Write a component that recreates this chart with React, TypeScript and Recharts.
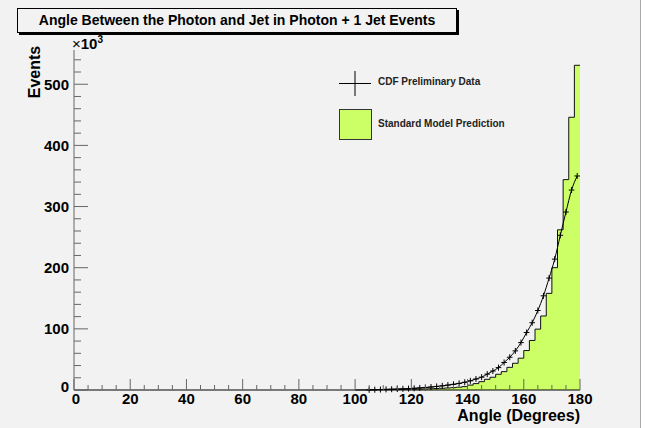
import { ComposedChart, Area, Line, XAxis, YAxis } from "recharts";

// Standard Model prediction, 2 degree bins (left edge), events x10^3
const smBinLow = [
  100, 102, 104, 106, 108, 110, 112, 114, 116, 118,
  120, 122, 124, 126, 128, 130, 132, 134, 136, 138,
  140, 142, 144, 146, 148, 150, 152, 154, 156, 158,
  160, 162, 164, 166, 168, 170, 172, 174, 176, 178,
];
const smEvents = [
  0.1, 0.15, 0.2, 0.3, 0.4, 0.5, 0.6, 0.7, 0.9, 1.1,
  1.3, 1.5, 1.8, 2.0, 2.4, 2.8, 3.3, 3.9, 4.6, 5.5,
  8.0, 10.5, 13.6, 17.5, 20.8, 25.7, 30, 37, 43.7, 52,
  64.5, 81, 99.5, 121, 158, 200, 262, 344, 446, 531,
];

// CDF preliminary data, bin centres, events x10^3
const dataAngle = [
  105, 107, 109, 111, 113, 115, 117, 119, 121, 123,
  125, 127, 129, 131, 133, 135, 137, 139, 141, 143,
  145, 147, 149, 151, 153, 155, 157, 159, 161, 163,
  165, 167, 169, 171, 173, 175, 177, 179,
];
const dataEvents = [
  0.3, 0.5, 0.7, 1.0, 1.3, 1.6, 1.9, 2.3, 2.8, 3.4,
  4.1, 4.9, 5.8, 6.8, 8.0, 9.3, 10.8, 12.6, 15.0, 18.0,
  21, 26, 31, 36.6, 45, 53.6, 64, 77.5, 94, 110,
  130, 154, 183, 214, 253, 291, 327, 350,
];

const xMajor = [0, 20, 40, 60, 80, 100, 120, 140, 160, 180];
const yMajor = [0, 100, 200, 300, 400, 500];
const xTicks = Array.from({ length: 37 }, (_, i) => i * 5);
const yTicks = Array.from({ length: 28 }, (_, i) => i * 20);

type Row = { angle: number; sm: number | null; cdf: number | null };
const rows: Row[] = [];
smBinLow.forEach((a, i) => rows.push({ angle: a, sm: smEvents[i], cdf: null }));
rows.push({ angle: 180, sm: smEvents[smEvents.length - 1], cdf: null });
dataAngle.forEach((a, i) => rows.push({ angle: a, sm: null, cdf: dataEvents[i] }));
rows.sort((p, q) => p.angle - q.angle);

const FONT = '"Liberation Sans", Arial, Helvetica, sans-serif';
const BG = "#f2f2f2";
const BIN_HALF_PX = 506 / 180; // half of a 2 degree bin in pixels

function YTick(props: any) {
  const { x, y, payload } = props;
  const v = payload.value;
  const major = yMajor.includes(v);
  return (
    <g>
      <line x1={x} x2={x + (major ? 14 : 7)} y1={y} y2={y} stroke="#666" />
      {major && (
        <text
          x={x - 5}
          y={v === 0 ? y - 4 : y}
          textAnchor="end"
          dominantBaseline="central"
          fontFamily={FONT}
          fontWeight="bold"
          fontSize={15}
          fill="#000"
        >
          {v}
        </text>
      )}
    </g>
  );
}

function XTick(props: any) {
  const { x, y, payload } = props;
  const v = payload.value;
  const major = xMajor.includes(v);
  return (
    <g>
      <line x1={x} x2={x} y1={y} y2={y - (major ? 11 : 5)} stroke="#666" />
      {major && (
        <text
          x={v === 0 ? x + 2 : x}
          y={y + 3}
          textAnchor="middle"
          dominantBaseline="hanging"
          fontFamily={FONT}
          fontWeight="bold"
          fontSize={15}
          fill="#000"
        >
          {v}
        </text>
      )}
    </g>
  );
}

function Cross(props: any) {
  const { cx, cy } = props;
  if (cx == null || cy == null) return <g />;
  return (
    <g>
      <line x1={cx - BIN_HALF_PX} x2={cx + BIN_HALF_PX} y1={cy} y2={cy} stroke="#000" />
      <line x1={cx} x2={cx} y1={cy - 3} y2={cy + 3} stroke="#000" />
    </g>
  );
}

export default function App() {
  return (
    <div
      style={{
        position: "absolute",
        left: 0,
        top: 0,
        width: 654,
        height: 428,
        background: "#fff",
        fontFamily: FONT,
      }}
    >
      <div
        style={{
          position: "absolute",
          left: 0,
          top: 0,
          width: 640,
          height: 428,
          background: BG,
          borderRight: "1px solid #aaa",
        }}
      />
      <div style={{ position: "absolute", left: 0, top: 0 }}>
        <ComposedChart
          width={654}
          height={428}
          data={rows}
          margin={{ top: 50, right: 74, bottom: 8, left: 14 }}
        >
          <XAxis
            dataKey="angle"
            type="number"
            domain={[0, 180]}
            ticks={xTicks}
            interval={0}
            height={30}
            tickSize={0}
            tickMargin={0}
            tickLine={false}
            axisLine={{ stroke: "#000" }}
            tick={<XTick />}
          />
          <XAxis
            xAxisId="top"
            orientation="top"
            dataKey="angle"
            type="number"
            domain={[0, 180]}
            height={0}
            tick={false}
            tickLine={false}
            axisLine={{ stroke: "#000" }}
          />
          <YAxis
            type="number"
            domain={[0, 556]}
            ticks={yTicks}
            interval={0}
            width={60}
            tickSize={0}
            tickMargin={0}
            tickLine={false}
            axisLine={{ stroke: "#666" }}
            tick={<YTick />}
          />
          <YAxis
            yAxisId="right"
            orientation="right"
            type="number"
            domain={[0, 556]}
            width={0}
            tick={false}
            tickLine={false}
            axisLine={{ stroke: "#555" }}
          />
          <Area
            dataKey="sm"
            type="stepAfter"
            connectNulls
            fill="#ccff66"
            fillOpacity={1}
            stroke="#111"
            strokeWidth={1}
            dot={false}
            activeDot={false}
            isAnimationActive={false}
          />
          <Line
            dataKey="cdf"
            type="monotone"
            connectNulls
            stroke="#000"
            strokeWidth={1}
            dot={<Cross />}
            activeDot={false}
            isAnimationActive={false}
          />
        </ComposedChart>
      </div>

      {/* title box */}
      <div
        style={{
          position: "absolute",
          left: 17,
          top: 8,
          width: 438,
          height: 23,
          border: "1px solid #000",
          boxShadow: "2px 2px 0 #000",
          background: BG,
          fontWeight: "bold",
          fontSize: 14,
          lineHeight: "23px",
          textAlign: "center",
        }}
      >
        Angle Between the Photon and Jet in Photon + 1 Jet Events
      </div>

      {/* axis titles */}
      <div style={{ position: "absolute", left: 72, top: 34, fontSize: 15, fontWeight: "bold" }}>
        <span style={{ fontWeight: "normal" }}>×</span>10
        <sup style={{ fontSize: 10 }}>3</sup>
      </div>
      <div
        style={{
          position: "absolute",
          left: 35,
          top: 72,
          fontSize: 16,
          fontWeight: "bold",
          transform: "translate(-50%, -50%) rotate(-90deg)",
          whiteSpace: "nowrap",
        }}
      >
        Events
      </div>
      <div
        style={{
          position: "absolute",
          right: 654 - 580,
          top: 407,
          fontSize: 16,
          fontWeight: "bold",
          whiteSpace: "nowrap",
        }}
      >
        Angle (Degrees)
      </div>

      {/* legend */}
      <svg style={{ position: "absolute", left: 339, top: 71 }} width={33} height={25}>
        <line x1={0} x2={32} y1={12.5} y2={12.5} stroke="#000" />
        <line x1={16} x2={16} y1={0} y2={25} stroke="#000" />
      </svg>
      <div style={{ position: "absolute", left: 378, top: 76, fontSize: 10, fontWeight: "bold", color: "#222" }}>
        CDF Preliminary Data
      </div>
      <div
        style={{
          position: "absolute",
          left: 339,
          top: 109,
          width: 31,
          height: 29,
          background: "#ccff66",
          border: "1px solid #333",
        }}
      />
      <div style={{ position: "absolute", left: 378, top: 118, fontSize: 10, fontWeight: "bold", color: "#222" }}>
        Standard Model Prediction
      </div>
    </div>
  );
}
